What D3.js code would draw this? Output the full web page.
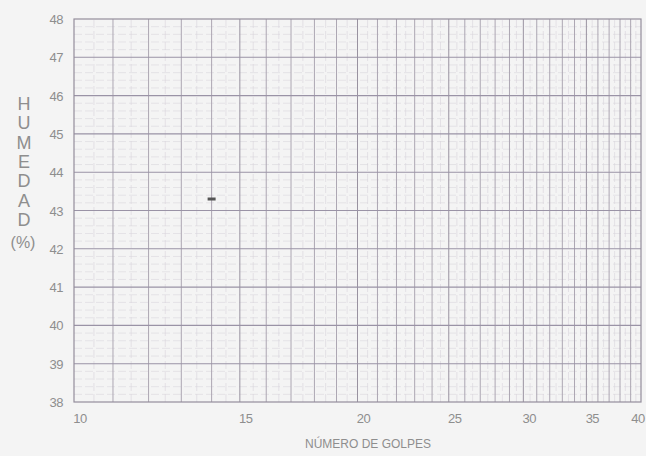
<!DOCTYPE html>
<html>
<head>
<meta charset="utf-8">
<script src="https://cdn.jsdelivr.net/npm/d3@7"></script>
<style>
  body { margin: 0; background: #f4f4f4; }
  text { font-family: "Liberation Sans", Arial, sans-serif; fill: #8e8e8e; }
</style>
</head>
<body>
<div id="chart"></div>
<script>
var xTicks = [10, 15, 20, 25, 30, 35, 40]
var yTicks = [38, 39, 40, 41, 42, 43, 44, 45, 46, 47, 48]
var golpes = [14]
var humedad = [43.3]
var yLetters = ["H", "U", "M", "E", "D", "A", "D"]

var width = 646, height = 456
var margin = {left: 74, right: 5, top: 19, bottom: 54}

var svg = d3.select("#chart")
	.append("svg")
	.attr("width", width)
	.attr("height", height)

var x = d3.scaleLog().domain([10, 40]).range([margin.left, width - margin.right])
var y = d3.scaleLinear().domain([38, 48]).range([height - margin.bottom, margin.top])

var grid = svg.append("g")

// minor horizontal lines every 0.2
var minorY = d3.range(380, 481, 2).map(function(d){ return d / 10 }).filter(function(d){ return d % 1 !== 0 })
grid.selectAll(".minh")
	.data(minorY)
	.enter().append("line")
	.attr("x1", x(10)).attr("x2", x(40))
	.attr("y1", function(d){ return y(d) }).attr("y2", function(d){ return y(d) })
	.attr("stroke", "#dad6de").attr("stroke-width", 0.6)
	.attr("stroke-dasharray", "8,3")

// minor vertical lines on half steps
var minorX = d3.range(21, 80, 2).map(function(d){ return d / 2 })
grid.selectAll(".minv")
	.data(minorX)
	.enter().append("line")
	.attr("y1", y(38)).attr("y2", y(48))
	.attr("x1", function(d){ return x(d) }).attr("x2", function(d){ return x(d) })
	.attr("stroke", "#d8d4dc").attr("stroke-width", 0.6)
	.attr("stroke-dasharray", "8,3")

// major vertical lines every integer
grid.selectAll(".majv")
	.data(d3.range(11, 40))
	.enter().append("line")
	.attr("y1", y(38)).attr("y2", y(48))
	.attr("x1", function(d){ return x(d) }).attr("x2", function(d){ return x(d) })
	.attr("stroke", function(d){ return d % 5 === 0 ? "#9992a0" : "#aca6b2" })
	.attr("stroke-width", 1)

// major horizontal lines every integer
grid.selectAll(".majh")
	.data(yTicks.slice(1, -1))
	.enter().append("line")
	.attr("x1", x(10)).attr("x2", x(40))
	.attr("y1", function(d){ return y(d) }).attr("y2", function(d){ return y(d) })
	.attr("stroke", "#9a93a6").attr("stroke-width", 1.1)

svg.append("rect")
	.attr("x", x(10)).attr("y", y(48))
	.attr("width", x(40) - x(10)).attr("height", y(38) - y(48))
	.attr("fill", "none").attr("stroke", "#938d9b").attr("stroke-width", 1.2)

// tick labels
svg.selectAll(".ylab")
	.data(yTicks)
	.enter().append("text")
	.attr("x", 63)
	.attr("y", function(d){ return y(d) + 5 })
	.attr("text-anchor", "end")
	.attr("font-size", 13)
	.attr("letter-spacing", -0.5)
	.text(function(d){ return d })

svg.selectAll(".xlab")
	.data(xTicks)
	.enter().append("text")
	.attr("x", function(d){ return x(d) + (d === 40 ? -3 : 6) })
	.attr("y", 423)
	.attr("text-anchor", "middle")
	.attr("font-size", 13)
	.attr("letter-spacing", -0.5)
	.text(function(d){ return d })

svg.append("text")
	.attr("x", 368).attr("y", 448)
	.attr("text-anchor", "middle")
	.attr("font-size", 12)
	.text("NÚMERO DE GOLPES")

svg.selectAll(".yl")
	.data(yLetters)
	.enter().append("text")
	.attr("x", 24)
	.attr("y", function(d, i){ return 110 + i * 19.3 })
	.attr("text-anchor", "middle")
	.attr("font-size", 18)
	.text(function(d){ return d })

svg.append("text")
	.attr("x", 23).attr("y", 248)
	.attr("text-anchor", "middle")
	.attr("font-size", 16)
	.text("(%)")

// data mark
svg.selectAll(".pt")
	.data(golpes)
	.enter().append("rect")
	.attr("x", function(d){ return x(d) - 4 })
	.attr("y", function(d, i){ return y(humedad[i]) - 1.5 })
	.attr("width", 8).attr("height", 3)
	.attr("fill", "#555")
</script>
</body>
</html>
